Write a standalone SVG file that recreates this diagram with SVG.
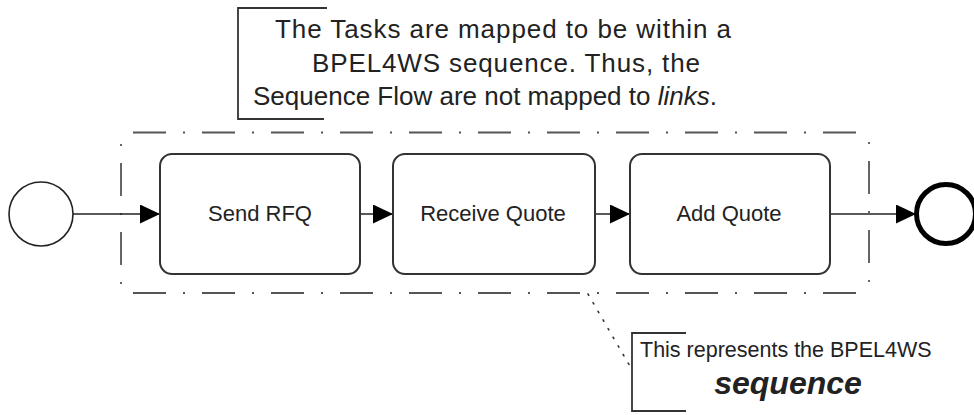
<svg xmlns="http://www.w3.org/2000/svg" width="974" height="415" viewBox="0 0 974 415">
<defs>
<style>
.txt{font-family:"Liberation Sans",Arial,sans-serif;fill:#222;}
.task{fill:#fff;stroke:#333;stroke-width:2;}
.flow{stroke:#222;stroke-width:1.6;fill:none;}
.ddh{stroke:#555;stroke-width:1.8;fill:none;stroke-dasharray:33 17 2 17;}
.ddv{stroke:#333;stroke-width:1.5;fill:none;stroke-dasharray:2 17 33 17;}
.brk{stroke:#333;stroke-width:1.8;fill:none;}
</style>
<marker id="arr" markerUnits="userSpaceOnUse" viewBox="0 0 20 19" refX="20" refY="9.5" markerWidth="20" markerHeight="19" orient="auto">
<path d="M0,0 L20,9.5 L0,19 Z" fill="#000"/>
</marker>
</defs>
<rect width="974" height="415" fill="#fff"/>

<g id="sequence-group">
<line class="ddh" x1="133" y1="132.5" x2="869" y2="132.5"/>
<line class="ddh" x1="133" y1="293" x2="869" y2="293"/>
<line class="ddv" x1="121" y1="144" x2="121" y2="293"/>
<line class="ddv" x1="869" y1="142" x2="869" y2="293"/>
</g>

<g id="connectors">
<line class="flow" x1="73" y1="214" x2="160" y2="214" marker-end="url(#arr)"/>
<line class="flow" x1="360" y1="214" x2="393" y2="214" marker-end="url(#arr)"/>
<line class="flow" x1="595" y1="214" x2="630" y2="214" marker-end="url(#arr)"/>
<line class="flow" x1="830" y1="214" x2="916" y2="214" marker-end="url(#arr)"/>
<line x1="588" y1="294" x2="631" y2="368" stroke="#333" stroke-width="1.6" stroke-dasharray="1.5 8.5" stroke-linecap="round"/>
</g>

<g id="start-event">
<circle cx="41" cy="214" r="32" fill="#fff" stroke="#222" stroke-width="1.6"/>
</g>

<g id="task-send-rfq">
<rect class="task" x="160" y="154" width="200" height="120" rx="12"/>
<text class="txt" x="260" y="221" font-size="22" text-anchor="middle">Send RFQ</text>
</g>

<g id="task-receive-quote">
<rect class="task" x="393" y="154" width="202" height="120" rx="12"/>
<text class="txt" x="493" y="221" font-size="22" text-anchor="middle">Receive Quote</text>
</g>

<g id="task-add-quote">
<rect class="task" x="630" y="154" width="200" height="120" rx="12"/>
<text class="txt" x="729" y="221" font-size="22" text-anchor="middle">Add Quote</text>
</g>

<g id="end-event">
<circle cx="946" cy="214" r="29.5" fill="#fff" stroke="#000" stroke-width="5"/>
</g>

<g id="annotation-top">
<path class="brk" d="M327,8 H238 V119 H324"/>
<text class="txt" x="275" y="38" font-size="26" textLength="456" lengthAdjust="spacing">The Tasks are mapped to be within a</text>
<text class="txt" x="312" y="72" font-size="26" textLength="388" lengthAdjust="spacing">BPEL4WS sequence. Thus, the</text>
<text class="txt" x="253" y="105" font-size="26">Sequence Flow are not mapped to <tspan font-style="italic">links</tspan>.</text>
</g>

<g id="annotation-bottom">
<path class="brk" d="M686,333 H632 V411 H686"/>
<text class="txt" x="640" y="357" font-size="21.5">This represents the BPEL4WS</text>
<text class="txt" x="788" y="394" font-size="32" font-weight="bold" font-style="italic" text-anchor="middle">sequence</text>
</g>
</svg>
